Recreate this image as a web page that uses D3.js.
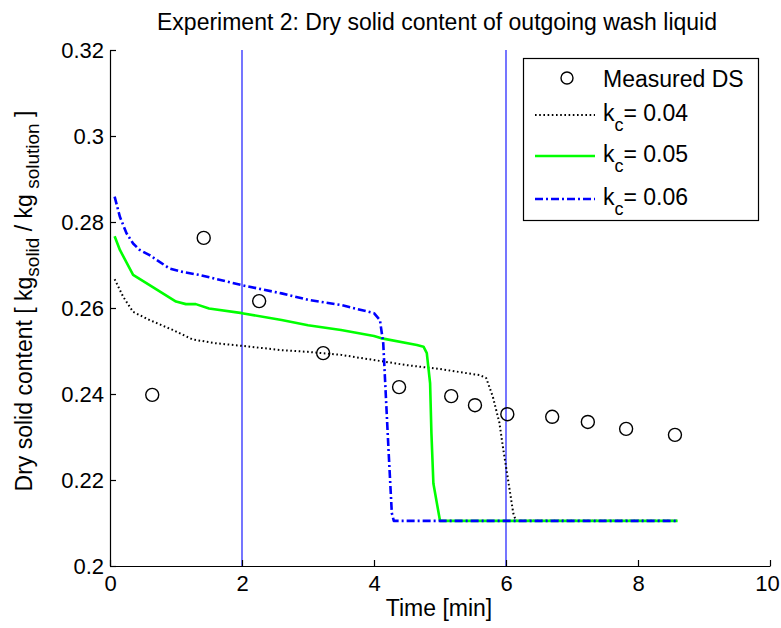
<!DOCTYPE html>
<html><head><meta charset="utf-8">
<script src="https://cdn.jsdelivr.net/npm/d3@7"></script>
<style>body{margin:0;background:#fff}svg{display:block}text{font-family:"Liberation Sans",Arial,sans-serif;fill:#000}</style>
</head><body><svg id="c" width="781" height="628"></svg>
<script>
const xTicks=[0,2,4,6,8,10];
const yTicks=[0.2,0.22,0.24,0.26,0.28,0.3,0.32];
const yTickLabels=["0.2","0.22","0.24","0.26","0.28","0.3","0.32"];
const measuredT=[0.64,1.42,2.26,3.23,4.38,5.17,5.53,6.02,6.70,7.24,7.82,8.56];
const measuredDS=[0.2398,0.2763,0.2616,0.2495,0.2416,0.2395,0.2374,0.2353,0.2347,0.2335,0.2319,0.2305];
const t04=[0.07,0.2,0.35,0.6,0.95,1.25,1.6,2.0,2.6,3.0,3.5,4.0,4.5,5.0,5.6,5.7,5.8,5.9,5.96,6.04,6.11,6.15,6.5,7,7.5,8,8.6];
const v04=[0.2667,0.2626,0.2591,0.2572,0.2549,0.2527,0.2518,0.2512,0.2502,0.2498,0.2491,0.2479,0.2467,0.2458,0.2444,0.2437,0.2394,0.2333,0.227,0.2192,0.2123,0.2105,0.2105,0.2105,0.2105,0.2105,0.2105];
const t05=[0.07,0.15,0.35,0.6,1.0,1.15,1.3,1.5,2.0,2.6,3.0,3.5,4.0,4.1,4.65,4.75,4.8,4.85,4.87,4.9,5.0,5.5,6,7,8,8.6];
const v05=[0.2767,0.2735,0.2677,0.2653,0.2615,0.2609,0.2609,0.2599,0.2588,0.2572,0.256,0.2549,0.2535,0.253,0.2514,0.251,0.2495,0.2425,0.2309,0.2192,0.2105,0.2105,0.2105,0.2105,0.2105,0.2105];
const t06=[0.07,0.15,0.25,0.35,0.45,0.6,0.9,1.1,1.35,2.0,2.6,3.0,3.5,4.0,4.09,4.14,4.17,4.22,4.27,4.3,5,6,7,8,8.6];
const v06=[0.2859,0.2812,0.2774,0.275,0.2735,0.2723,0.2692,0.2684,0.2677,0.2653,0.2634,0.2619,0.2607,0.2588,0.2572,0.2518,0.2425,0.227,0.2123,0.2105,0.2105,0.2105,0.2105,0.2105,0.2105];
const vLines=[2,6];
const seriesNames=["0.04","0.05","0.06"];

const svg=d3.select("#c");
const L=110,R=770,T=50,B=566;
const x=d3.scaleLinear().domain([0,10]).range([L,R]);
const y=d3.scaleLinear().domain([0.2,0.32]).range([B,T]);

svg.selectAll("line.v").data(vLines).join("line").attr("class","v")
  .attr("x1",d=>x(d)).attr("x2",d=>x(d)).attr("y1",T).attr("y2",B)
  .attr("stroke","#1a1aff").attr("stroke-width",1.2);

const line=d3.line().x(d=>x(d[0])).y(d=>y(d[1]));
const series=[
  {t:t04,v:v04,color:"#000",w:2,dash:"1.6,2.6"},
  {t:t05,v:v05,color:"#00ff00",w:2.6,dash:null},
  {t:t06,v:v06,color:"#0000ff",w:2.6,dash:"8,3,2,3"}
];
series.forEach(s=>{
  svg.append("path").datum(s.t.map((t,i)=>[t,s.v[i]])).attr("d",line)
   .attr("fill","none").attr("stroke",s.color).attr("stroke-width",s.w)
   .attr("stroke-dasharray",s.dash).attr("stroke-linejoin","round");
});

svg.selectAll("circle.m").data(measuredT.map((t,i)=>[t,measuredDS[i]])).join("circle")
  .attr("class","m").attr("cx",d=>x(d[0])).attr("cy",d=>y(d[1])).attr("r",6.5)
  .attr("fill","none").attr("stroke","#000").attr("stroke-width",1.4);

const xa=svg.append("g").attr("transform",`translate(0,${B})`)
  .call(d3.axisBottom(x).tickValues(xTicks).tickSizeInner(-6).tickSizeOuter(0).tickPadding(9).tickFormat(d3.format("d")));
const ya=svg.append("g").attr("transform",`translate(${L},0)`)
  .call(d3.axisLeft(y).tickValues(yTicks).tickSizeInner(-6).tickSizeOuter(0).tickPadding(6).tickFormat((d,i)=>yTickLabels[i]));
[xa,ya].forEach(g=>{
  g.select(".domain").attr("stroke","#000").attr("stroke-width",1.2);
  g.selectAll(".tick line").attr("stroke","#000").attr("stroke-width",1.2);
  g.selectAll("text").style("font-size","22px").attr("fill","#000").style("font-family",'"Liberation Sans",Arial,sans-serif');
});
ya.selectAll("text").attr("dy","0.36em");
xa.selectAll(".tick text").filter(d=>d===10).attr("dx",-3);

svg.append("text").attr("x",437).attr("y",30).attr("text-anchor","middle").style("font-size","23px")
  .text("Experiment 2: Dry solid content of outgoing wash liquid");
svg.append("text").attr("x",439).attr("y",616).attr("text-anchor","middle").style("font-size","23px").text("Time [min]");
const yl=svg.append("text").attr("transform","translate(32,301) rotate(-90)").attr("text-anchor","middle").style("font-size","23px");
yl.append("tspan").text("Dry solid content [ kg");
yl.append("tspan").attr("dy",7).style("font-size","19px").text("solid");
yl.append("tspan").attr("dy",-7).text(" / kg");
yl.append("tspan").attr("dy",7).style("font-size","19px").text(" solution");
yl.append("tspan").attr("dy",-7).text(" ]");

const lg=svg.append("g");
lg.append("rect").attr("x",523.5).attr("y",58.5).attr("width",235).attr("height",162)
  .attr("fill","#fff").attr("stroke","#000").attr("stroke-width",1.2);
lg.append("circle").attr("cx",567).attr("cy",78).attr("r",6).attr("fill","none").attr("stroke","#000").attr("stroke-width",1.4);
lg.append("text").attr("x",603).attr("y",87).style("font-size","23px").text("Measured DS");
const rows=[115,156,199];
series.forEach((s,i)=>{
  lg.append("line").attr("x1",535).attr("x2",595).attr("y1",rows[i]).attr("y2",rows[i])
    .attr("stroke",s.color).attr("stroke-width",s.w).attr("stroke-dasharray",s.dash);
  const t=lg.append("text").attr("x",603).attr("y",rows[i]+6).style("font-size","23px");
  t.append("tspan").text("k");
  t.append("tspan").attr("dy",10).style("font-size","18px").text("c");
  t.append("tspan").attr("dy",-10).text("= "+seriesNames[i]);
});
</script></body></html>
